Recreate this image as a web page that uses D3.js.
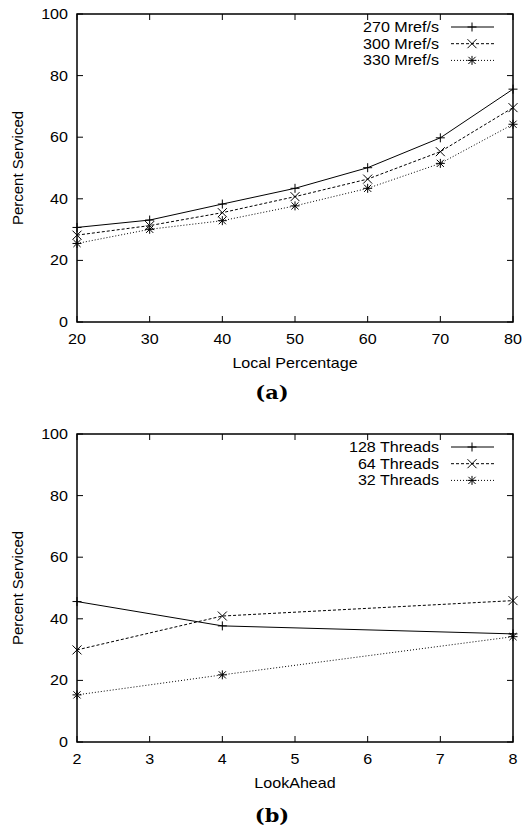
<!DOCTYPE html>
<html>
<head>
<meta charset="utf-8">
<script src="https://cdn.jsdelivr.net/npm/d3@7"></script>
<style>
  html, body { margin: 0; padding: 0; background: #fff; }
  svg { display: block; }
  text { fill: #000; }
</style>
</head>
<body>
<svg id="chart" width="525" height="828"></svg>
<script>
// Panel (a): percent serviced vs local percentage
const localPct = [20, 30, 40, 50, 60, 70, 80];
const mref270 = [30.7, 33.1, 38.3, 43.4, 50.1, 59.8, 75.6];
const mref300 = [28.2, 31.3, 35.5, 40.7, 46.4, 55.3, 69.6];
const mref330 = [25.5, 30.1, 32.9, 37.7, 43.4, 51.5, 64.2];
const seriesA = ['270 Mref/s', '300 Mref/s', '330 Mref/s'];

// Panel (b): percent serviced vs lookahead
const lookAhead = [2, 4, 8];
const threads128 = [45.6, 37.7, 35.1];
const threads64 = [29.9, 40.9, 45.9];
const threads32 = [15.3, 21.8, 34.2];
const seriesB = ['128 Threads', '64 Threads', '32 Threads'];

const yTicks = [0, 20, 40, 60, 80, 100];
const xTicksA = [20, 30, 40, 50, 60, 70, 80];
const xTicksB = [2, 3, 4, 5, 6, 7, 8];

// gnuplot-ish line types: solid, dashed, dotted; markers +, x, *
const STYLES = [
    { dash: null, mark: 'plus' },
    { dash: '3,2', mark: 'cross' },
    { dash: '1,2', mark: 'star' },
];

const SANS = '"Liberation Sans", Arial, Helvetica, sans-serif';
const svg = d3.select('#chart');
const SX = 1.15; // horizontal text stretch seen in the reference

function marker(g, kind, x, y) {
    const s = 4.5;
    const p = d3.path();
    if (kind === 'plus' || kind === 'star') {
        p.moveTo(x - s, y); p.lineTo(x + s, y);
        p.moveTo(x, y - s); p.lineTo(x, y + s);
    }
    if (kind === 'cross' || kind === 'star') {
        const c = kind === 'star' ? s * 0.8 : s;
        p.moveTo(x - c, y - c); p.lineTo(x + c, y + c);
        p.moveTo(x - c, y + c); p.lineTo(x + c, y - c);
    }
    g.append('path').attr('d', p.toString())
        .attr('stroke', '#000').attr('stroke-width', 1).attr('fill', 'none');
}

function hText(g, x, y, str, anchor, size) {
    g.append('text')
        .attr('transform', `translate(${x},${y}) scale(${SX},1)`)
        .attr('text-anchor', anchor)
        .style('font-family', SANS)
        .style('font-size', (size || 14) + 'px')
        .text(str);
}

function drawPanel(p) {
    const x = d3.scaleLinear().domain(p.xDomain).range([77, 513]);
    const y = d3.scaleLinear().domain([0, 100]).range([p.bottom, p.top]);
    const g = svg.append('g');

    // ticks (inward, mirrored)
    const tickLen = 6;
    p.xTicks.forEach((t) => {
        g.append('line').attr('x1', x(t)).attr('x2', x(t))
            .attr('y1', y(0)).attr('y2', y(0) - tickLen)
            .attr('stroke', '#000').attr('stroke-width', 1);
        g.append('line').attr('x1', x(t)).attr('x2', x(t))
            .attr('y1', y(100)).attr('y2', y(100) + tickLen)
            .attr('stroke', '#000').attr('stroke-width', 1);
        hText(g, x(t), y(0) + 22, t, 'middle');
    });
    yTicks.forEach((t) => {
        g.append('line').attr('x1', x.range()[0]).attr('x2', x.range()[0] + tickLen)
            .attr('y1', y(t)).attr('y2', y(t))
            .attr('stroke', '#000').attr('stroke-width', 1);
        g.append('line').attr('x1', x.range()[1]).attr('x2', x.range()[1] - tickLen)
            .attr('y1', y(t)).attr('y2', y(t))
            .attr('stroke', '#000').attr('stroke-width', 1);
        hText(g, 68, y(t) + 5, t, 'end');
    });

    g.append('rect')
        .attr('x', x.range()[0]).attr('y', y(100))
        .attr('width', x.range()[1] - x.range()[0]).attr('height', y(0) - y(100))
        .attr('fill', 'none').attr('stroke', '#000').attr('stroke-width', 1.5);

    // series
    const line = d3.line().x((d) => x(d[0])).y((d) => y(d[1]));
    p.series.forEach((vals, i) => {
        const st = STYLES[i];
        const pts = p.xs.map((v, j) => [v, vals[j]]);
        g.append('path').datum(pts).attr('d', line)
            .attr('fill', 'none').attr('stroke', '#000').attr('stroke-width', 1)
            .attr('stroke-dasharray', st.dash);
        pts.forEach((d) => marker(g, st.mark, x(d[0]), y(d[1])));

        // legend row
        const ly = y(100) + 13 + i * 16.7;
        hText(g, 439, ly + 5, p.names[i], 'end');
        g.append('line').attr('x1', 451).attr('x2', 494).attr('y1', ly).attr('y2', ly)
            .attr('stroke', '#000').attr('stroke-width', 1)
            .attr('stroke-dasharray', st.dash);
        marker(g, st.mark, 472, ly);
    });

    // axis titles
    hText(g, 295, y(0) + 46, p.xLabel, 'middle');
    g.append('text')
        .attr('transform', `translate(23,${(y(0) + y(100)) / 2}) rotate(-90)`)
        .attr('text-anchor', 'middle')
        .style('font-family', SANS)
        .style('font-size', '15px')
        .text('Percent Serviced');

    g.append('text')
        .attr('transform', `translate(272,${p.captionY}) scale(1.1,1)`)
        .attr('text-anchor', 'middle')
        .style('font-family', '"DejaVu Serif", "Liberation Serif", serif')
        .style('font-weight', 'bold')
        .style('font-size', '19px')
        .text(p.caption);
}

drawPanel({
    xDomain: [20, 80], xTicks: xTicksA, xs: localPct,
    series: [mref270, mref300, mref330], names: seriesA,
    top: 14, bottom: 322, xLabel: 'Local Percentage',
    caption: '(a)', captionY: 399,
});

drawPanel({
    xDomain: [2, 8], xTicks: xTicksB, xs: lookAhead,
    series: [threads128, threads64, threads32], names: seriesB,
    top: 434, bottom: 742, xLabel: 'LookAhead',
    caption: '(b)', captionY: 822,
});
</script>
</body>
</html>
